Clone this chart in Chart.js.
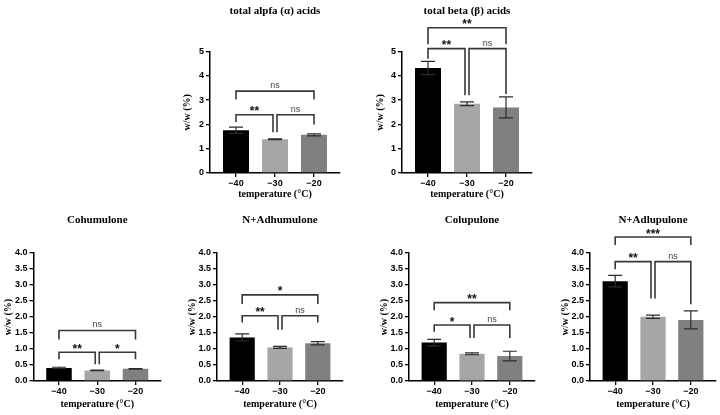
<!DOCTYPE html>
<html>
<head>
<meta charset="utf-8">
<script src="https://cdn.jsdelivr.net/npm/chart.js@4.4.1/dist/chart.umd.min.js"></script>
<style>
  html, body { margin: 0; padding: 0; background: #fff; }
  #wrap { position: relative; width: 720px; height: 415px; overflow: hidden; }
  #wrap canvas { position: absolute; }
</style>
</head>
<body>
<div id="wrap"></div>
<script>
// categories (storage temperature)
const temps = ['\u221240', '\u221230', '\u221220'];
const barColors = ['#000000', '#a6a6a6', '#808080'];

// mean and error per panel (w/w %)
const alphaMean = [1.76, 1.39, 1.57];
const alphaErr = [0.13, 0.02, 0.04];
const betaMean = [4.32, 2.85, 2.70];
const betaErr = [0.27, 0.08, 0.43];
const cohumMean = [0.41, 0.33, 0.38];
const cohumErr = [0.02, 0.01, 0.01];
const adhumMean = [1.36, 1.05, 1.18];
const adhumErr = [0.11, 0.03, 0.05];
const colupMean = [1.20, 0.85, 0.78];
const colupErr = [0.10, 0.03, 0.15];
const adlupMean = [3.12, 2.01, 1.91];
const adlupErr = [0.18, 0.05, 0.28];

// significance brackets: [from, to, height, left leg end, right leg end, label]
const alphaSig = [[0, 1, 2.40, 2.10, 1.68, '**'], [1, 2, 2.40, 1.68, 2.00, 'ns'], [0, 2, 3.37, 3.02, 3.02, 'ns']];
const betaSig = [[0, 1, 5.12, 4.70, 3.20, '**'], [1, 2, 5.12, 3.20, 3.25, 'ns'], [0, 2, 5.98, 5.30, 5.30, '**']];
const cohumSig = [[0, 1, 0.90, 0.68, 0.52, '**'], [1, 2, 0.90, 0.52, 0.68, '*'], [0, 2, 1.58, 1.30, 1.30, 'ns']];
const adhumSig = [[0, 1, 2.04, 1.83, 1.60, '**'], [1, 2, 2.04, 1.60, 1.83, 'ns'], [0, 2, 2.69, 2.41, 2.41, '*']];
const colupSig = [[0, 1, 1.75, 1.54, 1.34, '*'], [1, 2, 1.75, 1.34, 1.34, 'ns'], [0, 2, 2.45, 2.21, 2.21, '**']];
const adlupSig = [[0, 1, 3.73, 3.49, 2.58, '**'], [1, 2, 3.73, 2.58, 2.40, 'ns'], [0, 2, 4.50, 4.25, 4.25, '***']];

// panel placement (page px): canvas box, y axis x, x axis end, y title centre
const panels = [
  { title: 'total alpfa (\u03b1) acids', mean: alphaMean, err: alphaErr, sig: alphaSig, ymax: 5, step: 1,
    box: [180, 0, 180, 205], axisL: 210, axisR: 340, ytitleX: 187 },
  { title: 'total beta (\u03b2) acids', mean: betaMean, err: betaErr, sig: betaSig, ymax: 5, step: 1,
    box: [360, 0, 180, 205], axisL: 402, axisR: 532, ytitleX: 380 },
  { title: 'Cohumulone', mean: cohumMean, err: cohumErr, sig: cohumSig, ymax: 4, step: 0.5,
    box: [0, 205, 180, 210], axisL: 33.5, axisR: 161, ytitleX: 8.5 },
  { title: 'N+Adhumulone', mean: adhumMean, err: adhumErr, sig: adhumSig, ymax: 4, step: 0.5,
    box: [180, 205, 180, 210], axisL: 217, axisR: 343, ytitleX: 192 },
  { title: 'Colupulone', mean: colupMean, err: colupErr, sig: colupSig, ymax: 4, step: 0.5,
    box: [360, 205, 180, 210], axisL: 409, axisR: 535, ytitleX: 384 },
  { title: 'N+Adlupulone', mean: adlupMean, err: adlupErr, sig: adlupSig, ymax: 4, step: 0.5,
    box: [540, 205, 180, 210], axisL: 590, axisR: 716, ytitleX: 565 }
];

const serifBold = (size) => ({ family: '"Liberation Serif", "Times New Roman", serif', size, weight: 'bold' });
const sansBold = (size) => ({ family: '"Liberation Sans", Arial, sans-serif', size, weight: 'bold' });

function sigPlugin(mean, err, sig) {
  return {
    id: 'sigMarks',
    afterDatasetsDraw(chart) {
      const { ctx } = chart;
      const x = chart.scales.x, y = chart.scales.y;
      ctx.save();
      // error bars
      ctx.lineWidth = 1.2;
      ctx.strokeStyle = '#2b2b2b';
      mean.forEach((m, i) => {
        const cx = x.getPixelForValue(i);
        const t = y.getPixelForValue(m + err[i]);
        const b = y.getPixelForValue(m - err[i]);
        ctx.beginPath();
        ctx.moveTo(cx, t); ctx.lineTo(cx, b);
        ctx.moveTo(cx - 7, t); ctx.lineTo(cx + 7, t);
        ctx.moveTo(cx - 7, b); ctx.lineTo(cx + 7, b);
        ctx.stroke();
      });
      // brackets + labels
      ctx.lineWidth = 1.6;
      ctx.strokeStyle = '#383838';
      sig.forEach(([a, c, h, la, lc, txt]) => {
        const xa = x.getPixelForValue(a) + (a === 1 ? 2 : 0);
        const xc = x.getPixelForValue(c) - (c === 1 ? 2 : 0);
        const yh = y.getPixelForValue(h);
        ctx.beginPath();
        ctx.moveTo(xa, y.getPixelForValue(la));
        ctx.lineTo(xa, yh);
        ctx.lineTo(xc, yh);
        ctx.lineTo(xc, y.getPixelForValue(lc));
        ctx.stroke();
        const star = txt !== 'ns';
        ctx.font = star ? 'bold 12px "Liberation Sans", Arial' : '9px "Liberation Sans", Arial';
        ctx.fillStyle = star ? '#111' : '#444';
        ctx.textAlign = 'center';
        ctx.textBaseline = 'alphabetic';
        ctx.fillText(txt, (xa + xc) / 2, yh + (star ? 0.5 : -3));
      });
      ctx.restore();
    }
  };
}

const wrap = document.getElementById('wrap');

panels.forEach(p => {
  const [bx, by, bw, bh] = p.box;
  const cv = document.createElement('canvas');
  cv.width = bw; cv.height = bh;
  cv.style.left = bx + 'px'; cv.style.top = by + 'px';
  cv.style.width = bw + 'px'; cv.style.height = bh + 'px';
  wrap.appendChild(cv);

  const top = by === 0;
  const plotTop = top ? 51.5 : 48;       // canvas coords of y max
  const plotBottom = top ? 173 : 176;    // canvas coords of y = 0
  const titleY = top ? 11 : 15;
  const lh = 11 * 1.2;
  const spacing = (p.axisR - p.axisL) / (10 / 3);

  new Chart(cv.getContext('2d'), {
    type: 'bar',
    data: {
      datasets: [{
        data: p.mean.map((v, i) => ({ x: i, y: v })),
        backgroundColor: barColors,
        borderWidth: 0,
        categoryPercentage: 1,
        barPercentage: 0.667
      }]
    },
    options: {
      responsive: false,
      animation: false,
      events: [],
      layout: { padding: { left: 0, top: 0, bottom: 0, right: bx + bw - p.axisR } },
      plugins: {
        legend: { display: false },
        tooltip: { enabled: false },
        title: {
          display: true,
          text: p.title,
          fullSize: false,
          color: '#000',
          font: serifBold(11),
          padding: { top: titleY - lh / 2, bottom: plotTop - (titleY + lh / 2) }
        }
      },
      scales: {
        x: {
          type: 'linear',
          min: -2 / 3,
          max: 2 + 2 / 3,
          offset: false,
          afterBuildTicks: s => { s.ticks = temps.map((t, i) => ({ value: i })); },
          afterFit: s => { s.height = bh - plotBottom; },
          grid: { display: true, offset: false, drawOnChartArea: false, drawTicks: true, tickLength: 4, color: '#000', lineWidth: 1.3 },
          border: { display: true, color: '#000', width: 1.5 },
          ticks: { color: '#000', font: sansBold(9), padding: 1, maxRotation: 0, autoSkip: false, callback: v => temps[v] },
          title: { display: true, text: 'temperature (\u00b0C)', color: '#000', font: serifBold(10), padding: { top: 0, bottom: 5 } }
        },
        y: {
          min: 0,
          max: p.ymax,
          afterFit: s => { s.width = p.axisL - bx; },
          grid: { display: true, drawOnChartArea: false, drawTicks: true, tickLength: 4, color: '#000', lineWidth: 1.3 },
          border: { display: true, color: '#000', width: 1.5 },
          ticks: { stepSize: p.step, color: '#000', font: sansBold(9), padding: 2,
                   callback: v => p.step < 1 ? v.toFixed(1) : String(v) },
          title: { display: true, text: 'w/w (%)', color: '#000', font: serifBold(10), padding: { top: p.ytitleX - bx - 6, bottom: 0 } }
        }
      }
    },
    plugins: [sigPlugin(p.mean, p.err, p.sig)]
  });
});
</script>
</body>
</html>
